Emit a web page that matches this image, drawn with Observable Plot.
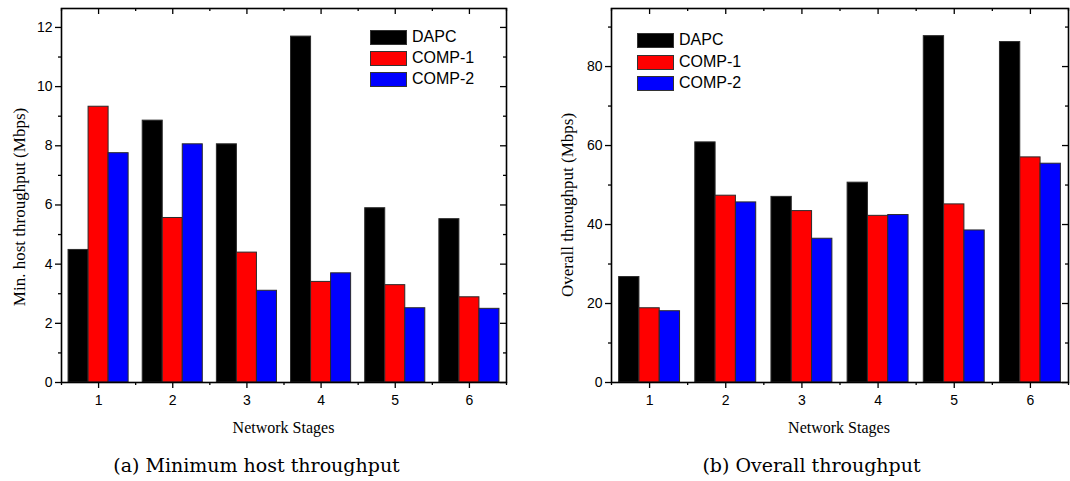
<!DOCTYPE html>
<html><head><meta charset="utf-8">
<script src="https://cdn.jsdelivr.net/npm/d3@7"></script>
<script src="https://cdn.jsdelivr.net/npm/@observablehq/plot@0.6"></script>
<style>
body{margin:0;background:#fff;}
#root{position:relative;width:1070px;height:481px;overflow:hidden;background:#fff;}
.panel{position:absolute;top:0;}
.ytitle{position:absolute;font-family:"Liberation Serif",serif;font-size:17px;transform:translate(-50%,-50%) rotate(-90deg);white-space:nowrap;color:#000;}
.xtitle{position:absolute;font-family:"Liberation Serif",serif;font-size:16px;transform:translate(-50%,-50%);white-space:nowrap;color:#000;}
.caption{position:absolute;font-family:"DejaVu Serif",serif;font-size:19px;transform:translate(-50%,-50%);white-space:nowrap;color:#000;}
.legend{position:absolute;font-family:"Liberation Sans",Arial,sans-serif;font-size:16px;color:#000;}
.legend .row{position:relative;height:21px;}
.legend .sw{position:absolute;left:0;top:0;width:35px;height:13px;border:1px solid #333;}
.legend .lb{position:absolute;left:42px;top:-2px;line-height:17px;white-space:nowrap;}
</style></head><body><div id="root"></div>
<script>
// ---- data ----
const stages = [1, 2, 3, 4, 5, 6];
const seriesNames = ["DAPC", "COMP-1", "COMP-2"];
const seriesColors = ["#000000", "#ff0000", "#0000ff"];

const minHostDAPC  = [4.48, 8.85, 8.05, 11.69, 5.89, 5.52];
const minHostCOMP1 = [9.32, 5.56, 4.39, 3.40, 3.29, 2.88];
const minHostCOMP2 = [7.75, 8.05, 3.10, 3.69, 2.51, 2.49];

const overallDAPC  = [26.7, 60.8, 47.0, 50.6, 87.7, 86.2];
const overallCOMP1 = [18.8, 47.3, 43.4, 42.2, 45.1, 57.0];
const overallCOMP2 = [18.05, 45.6, 36.4, 42.4, 38.5, 55.4];

const minHostMajorTicks = [0, 2, 4, 6, 8, 10, 12];
const minHostMinorTicks = [1, 3, 5, 7, 9, 11];
const overallMajorTicks = [0, 20, 40, 60, 80];
const overallMinorTicks = [10, 30, 50, 70, 90];

const xTitle = "Network Stages";
const minHostTitle = "Min. host throughput (Mbps)";
const overallTitle = "Overall throughput (Mbps)";
const captionA = "(a) Minimum host throughput";
const captionB = "(b) Overall throughput";

// ---- drawing ----
const root = document.getElementById("root");
const stageEdges = stages.map(s => s - 0.5).concat([stages[stages.length - 1] + 0.5]);

function makePanel(cfg) {
  const {left, width, height, marginLeft, marginRight, marginTop, marginBottom,
         yMax, major, minor, values, groupPad} = cfg;
  const rows = stages.flatMap((s, j) => seriesNames.map((n, i) => ({stage: s, series: n, idx: i, value: values[i][j]})));
  const pw = width - marginLeft - marginRight;
  const ph = height - marginTop - marginBottom;
  const bw = pw / stages.length;
  const bf = (1 - 2 * groupPad) / seriesNames.length;
  const barMarks = seriesNames.map((n, i) =>
    Plot.rectY(rows.filter(d => d.idx === i), {
      x1: d => d.stage - 0.5, x2: d => d.stage + 0.5, y: "value",
      fill: "series", stroke: "#2a2a2a", strokeWidth: 1,
      insetLeft: bw * (groupPad + i * bf), insetRight: bw * (1 - groupPad - (i + 1) * bf)
    })
  );
  const svg = Plot.plot({
    width, height, marginLeft, marginRight, marginTop, marginBottom,
    style: {fontFamily: "'Liberation Sans', Arial, sans-serif", fontSize: "14px", color: "#000", background: "transparent"},
    x: {type: "linear", domain: [stageEdges[0], stageEdges[stageEdges.length - 1]]},
    y: {domain: [0, yMax]},
    color: {domain: seriesNames, range: seriesColors},
    marks: [
      ...barMarks,
      Plot.axisY({ticks: major, tickSize: 6, tickPadding: 3, label: null, strokeWidth: 1.3}),
      Plot.axisY({ticks: minor, tickSize: 3, tickFormat: () => "", label: null, strokeWidth: 1.3}),
      Plot.axisX({ticks: stages, tickSize: 6, tickPadding: 7, label: null, tickFormat: d => String(d), strokeWidth: 1.3}),
      Plot.axisX({ticks: stageEdges, tickSize: 3, tickFormat: () => "", label: null, strokeWidth: 1.3}),
      Plot.tickY(major, {y: d => d, insetLeft: pw - 6, stroke: "#000", strokeWidth: 1.3}),
      Plot.tickY(minor, {y: d => d, insetLeft: pw - 3, stroke: "#000", strokeWidth: 1.3}),
      Plot.tickX(stages, {x: d => d, insetBottom: ph - 6, stroke: "#000", strokeWidth: 1.3}),
      Plot.tickX(stageEdges, {x: d => d, insetBottom: ph - 3, stroke: "#000", strokeWidth: 1.3}),
      Plot.frame({stroke: "#000", strokeWidth: 1.6})
    ]
  });
  svg.classList.add("panel");
  svg.style.left = left + "px";
  root.appendChild(svg);
}

makePanel({left: 0, width: 520, height: 420, marginLeft: 61, marginRight: 14, marginTop: 8, marginBottom: 38,
  yMax: 12.64, major: minHostMajorTicks, minor: minHostMinorTicks,
  values: [minHostDAPC, minHostCOMP1, minHostCOMP2], groupPad: 0.095});
makePanel({left: 540, width: 530, height: 420, marginLeft: 71, marginRight: 2, marginTop: 8, marginBottom: 38,
  yMax: 94.7, major: overallMajorTicks, minor: overallMinorTicks,
  values: [overallDAPC, overallCOMP1, overallCOMP2], groupPad: 0.1});

function addText(cls, text, x, y) {
  const d = document.createElement("div");
  d.className = cls; d.textContent = text;
  d.style.left = x + "px"; d.style.top = y + "px";
  root.appendChild(d);
}
addText("ytitle", minHostTitle, 20, 207);
addText("ytitle", overallTitle, 568, 205);
addText("xtitle", xTitle, 283.5, 428);
addText("xtitle", xTitle, 839, 428);
addText("caption", captionA, 256.5, 465);
addText("caption", captionB, 811.5, 465);

function addLegend(x, y, spacing) {
  const lg = document.createElement("div");
  lg.className = "legend";
  lg.style.left = x + "px"; lg.style.top = y + "px";
  seriesNames.forEach((n, i) => {
    const r = document.createElement("div"); r.className = "row"; r.style.height = spacing + "px";
    const sw = document.createElement("div"); sw.className = "sw"; sw.style.background = seriesColors[i];
    const lb = document.createElement("div"); lb.className = "lb"; lb.textContent = n;
    r.appendChild(sw); r.appendChild(lb); lg.appendChild(r);
  });
  root.appendChild(lg);
}
addLegend(370, 30, 21);
addLegend(637, 33, 21.5);
</script>
</body></html>
